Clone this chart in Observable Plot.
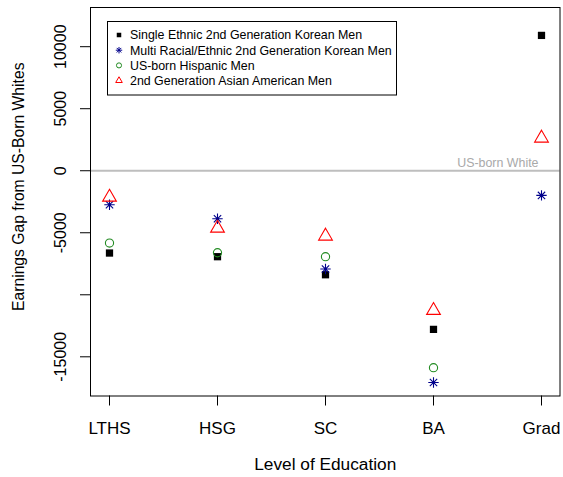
<!DOCTYPE html>
<html>
<head>
<meta charset="utf-8">
<script src="https://cdn.jsdelivr.net/npm/d3@7"></script>
<script src="https://cdn.jsdelivr.net/npm/@observablehq/plot@0.6"></script>
<style>
  body { margin: 0; background: #fff; }
  #chart svg { display: block; font-family: "Liberation Sans", Arial, Helvetica, sans-serif; }
</style>
</head>
<body>
<div id="chart"></div>
<script>
// Education levels along the x axis
const levels = ["LTHS", "HSG", "SC", "BA", "Grad"];

// Series names, in legend order
const seriesNames = [
  "Single Ethnic 2nd Generation Korean Men",
  "Multi Racial/Ethnic 2nd Generation Korean Men",
  "US-born Hispanic Men",
  "2nd Generation Asian American Men"
];

// Earnings gap from US-born whites (dollars), one value per education level
const singleKorean = [-6635, -6930, -8385, -12790, 10910];
const multiKorean  = [-2740, -3870, -7925, -17070, -1990];
const hispanic     = [-5830, -6610, -6930, -15880, null];
const asianAmerican = [-2130, -4630, -5270, -11260, 2630];

// Y axis ticks and their labels (the -10000 label is left out)
const yTicks = [-15000, -10000, -5000, 0, 5000, 10000];
const yTickLabels = ["-15000", "", "-5000", "0", "5000", "10000"];
const yLimits = [-17000, 12000];

// Reference line
const refValue = 0;
const refLabel = "US-born White";

const xTitle = "Level of Education";
const yTitle = "Earnings Gap from US-Born Whites";

// pch 8 style asterisk: a plus and a cross on top of each other
const asterisk8 = {
  draw(context, size) {
    const h = Math.sqrt(size / Math.PI);
    const d = h / Math.SQRT2;
    context.moveTo(-h, 0); context.lineTo(h, 0);
    context.moveTo(0, -h); context.lineTo(0, h);
    context.moveTo(-d, -d); context.lineTo(d, d);
    context.moveTo(-d, d); context.lineTo(d, -d);
  }
};

const seriesValues = [singleKorean, multiKorean, hispanic, asianAmerican];
const seriesStyle = [
  {symbol: "square", fill: "#000000", stroke: "none", r: 4.1},
  {symbol: asterisk8, fill: "none", stroke: "#00008B", r: 5.2},
  {symbol: "circle", fill: "none", stroke: "#228B22", r: 4.1},
  {symbol: "triangle", fill: "none", stroke: "#FF0000", r: 5.1}
];

const rows = seriesNames.map((name, i) =>
  levels.map((level, j) => ({series: name, level, value: seriesValues[i][j]}))
    .filter(d => d.value != null)
);

// R-style axis extension: 4% beyond the limits
const ext = (yLimits[1] - yLimits[0]) * 0.04;

const chart = Plot.plot({
  width: 563,
  height: 477,
  marginLeft: 90,
  marginRight: 3.5,
  marginTop: 7,
  marginBottom: 81.5,
  style: {fontFamily: '"Liberation Sans", Arial, Helvetica, sans-serif', background: "#fff"},
  x: {type: "point", domain: levels, padding: 0.16},
  y: {domain: [yLimits[0] - ext, yLimits[1] + ext]},
  marks: [
    Plot.ruleY([refValue], {stroke: "#bebebe", strokeWidth: 2}),
    Plot.text([refLabel], {
      x: () => levels[levels.length - 1], y: () => refValue, text: d => d,
      textAnchor: "end", dx: -3, dy: -8, fill: "#a9a9a9", fontSize: 12.4
    }),
    ...rows.map((data, i) => Plot.dot(data, {
      x: "level", y: "value",
      symbol: seriesStyle[i].symbol,
      fill: seriesStyle[i].fill,
      stroke: seriesStyle[i].stroke,
      strokeWidth: 1.1,
      r: seriesStyle[i].r
    })),
    Plot.frame({stroke: "#000", strokeWidth: 1}),
    Plot.axisX({tickSize: 10, tickPadding: 16, fontSize: 17, label: null, stroke: "#000", fill: "#000"}),
    Plot.axisY(yTicks, {
      tickSize: 10, tickPadding: 15, tickRotate: -90, fontSize: 16, label: null,
      tickFormat: d => yTickLabels[yTicks.indexOf(d)]
    }),
    Plot.text([xTitle], {frameAnchor: "bottom", dy: 74, text: d => d, fontSize: 17.3, fill: "#000"}),
    Plot.text([yTitle], {
      frameAnchor: "left", textAnchor: "middle", rotate: -90, dx: -72, dy: -15,
      text: d => d, fontSize: 15.7, fill: "#000"
    })
  ]
});

document.getElementById("chart").appendChild(chart);

// Legend box in the upper left of the plot area
const svg = d3.select(chart);
const legend = svg.append("g").attr("class", "legend").attr("text-anchor", "start");
const box = {x: 107.5, y: 21.5, w: 289, h: 73.5};
legend.append("rect")
  .attr("x", box.x).attr("y", box.y).attr("width", box.w).attr("height", box.h)
  .attr("fill", "#fff").attr("stroke", "#000").attr("stroke-width", 1);

const legendScale = 0.62;
seriesNames.forEach((name, i) => {
  const cy = box.y + 13.5 + i * 15.2;
  const st = seriesStyle[i];
  const symType = typeof st.symbol === "string"
    ? {square: d3.symbolSquare, circle: d3.symbolCircle, triangle: d3.symbolTriangle2}[st.symbol]
    : st.symbol;
  const rr = st.r * legendScale;
  legend.append("path")
    .attr("transform", `translate(${box.x + 11.5},${cy})`)
    .attr("d", d3.symbol(symType, Math.PI * rr * rr)())
    .attr("fill", st.fill).attr("stroke", st.stroke).attr("stroke-width", 1);
  legend.append("text")
    .attr("x", box.x + 22.5).attr("y", cy).attr("dy", "0.36em")
    .attr("text-anchor", "start")
    .attr("font-size", 12.4).attr("fill", "#000")
    .text(name);
});
</script>
</body>
</html>
